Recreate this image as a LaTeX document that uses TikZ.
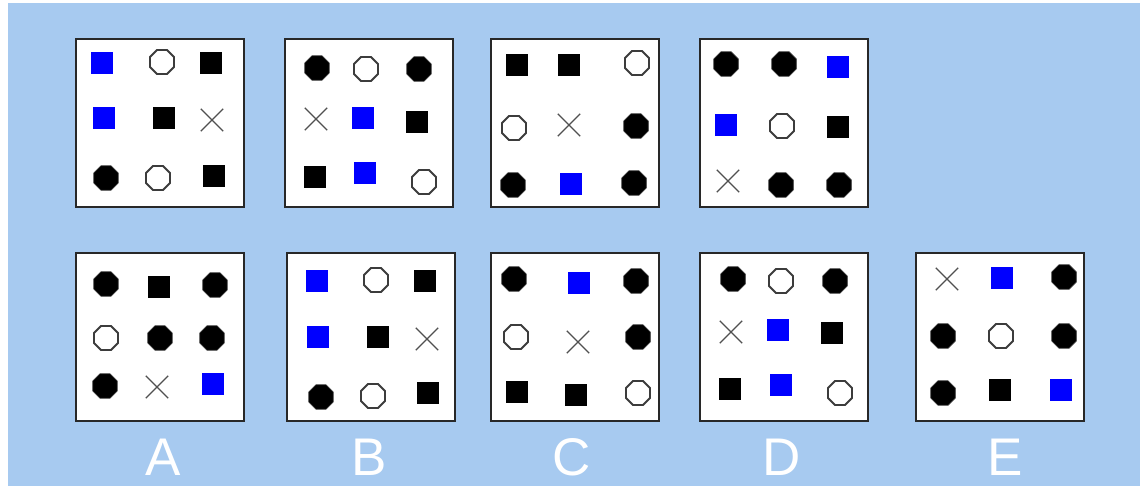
\documentclass[tikz,border=0pt]{standalone}
\usepackage{fontspec}
\setsansfont{Liberation Sans}
\usetikzlibrary{shapes.geometric,shapes.misc}
\definecolor{bg}{RGB}{167,202,240}
\definecolor{frame}{RGB}{40,40,40}
\definecolor{ring}{RGB}{60,60,60}
\definecolor{xcol}{RGB}{80,80,80}
\tikzset{
  panel/.style={draw=frame, line width=2.4pt, fill=white, minimum width=168pt, minimum height=168pt, inner sep=0pt},
  bsq/.style={fill=black, minimum size=22.5pt, inner sep=0pt},
  bluesq/.style={fill=blue, minimum size=22.5pt, inner sep=0pt},
  boct/.style={regular polygon, regular polygon sides=8, fill=black, draw=black!80, line width=0.6pt, minimum size=26.5pt, inner sep=0pt},
  ooct/.style={regular polygon, regular polygon sides=8, draw=ring, line width=1.9pt, fill=white, minimum size=26pt, inner sep=0pt},
  xmark/.style={cross out, draw=xcol, line width=1.3pt, minimum size=21pt, inner sep=0pt},
  lab/.style={text=white, font=\sffamily\fontsize{53}{53}\selectfont, inner sep=0pt}
}
\begin{document}
\begin{tikzpicture}[x=1pt,y=-1pt]
\useasboundingbox (0,0) rectangle (1142,486);
\fill[white] (0,0) rectangle (1142,486);
\fill[bg] (8,3) rectangle (1140,486);
% panels
\node[panel] (p1) at (160,123) {};
\node[panel] (p2) at (369,123) {};
\node[panel] (p3) at (575,123) {};
\node[panel] (p4) at (784,123) {};
\node[panel] (pA) at (160,337) {};
\node[panel] (pB) at (371,337) {};
\node[panel] (pC) at (575,337) {};
\node[panel] (pD) at (784,337) {};
\node[panel] (pE) at (1000,337) {};
% P1
\node[bluesq] (p1a) at (102,63) {};
\node[ooct] (p1b) at (162,62) {};
\node[bsq] (p1c) at (211,63) {};
\node[bluesq] (p1d) at (104,118) {};
\node[bsq] (p1e) at (164,118) {};
\node[xmark] (p1f) at (212,120) {};
\node[boct] (p1g) at (106,178) {};
\node[ooct] (p1h) at (158,178) {};
\node[bsq] (p1i) at (214,176) {};
% P2
\node[boct] (p2a) at (317,68) {};
\node[ooct] (p2b) at (366,69) {};
\node[boct] (p2c) at (419,69) {};
\node[xmark] (p2d) at (316,119) {};
\node[bluesq] (p2e) at (363,118) {};
\node[bsq] (p2f) at (417,122) {};
\node[bsq] (p2g) at (315,177) {};
\node[bluesq] (p2h) at (365,173) {};
\node[ooct] (p2i) at (424,182) {};
% P3
\node[bsq] (p3a) at (517,65) {};
\node[bsq] (p3b) at (569,65) {};
\node[ooct] (p3c) at (637,63) {};
\node[ooct] (p3d) at (514,128) {};
\node[xmark] (p3e) at (569,125) {};
\node[boct] (p3f) at (636,126) {};
\node[boct] (p3g) at (513,185) {};
\node[bluesq] (p3h) at (571,184) {};
\node[boct] (p3i) at (634,183) {};
% P4
\node[boct] (p4a) at (726,64) {};
\node[boct] (p4b) at (784,64) {};
\node[bluesq] (p4c) at (838,67) {};
\node[bluesq] (p4d) at (726,125) {};
\node[ooct] (p4e) at (782,126) {};
\node[bsq] (p4f) at (838,127) {};
\node[xmark] (p4g) at (728,181) {};
\node[boct] (p4h) at (781,185) {};
\node[boct] (p4i) at (839,185) {};
% A
\node[boct] (Aa) at (106,284) {};
\node[bsq] (Ab) at (159,287) {};
\node[boct] (Ac) at (215,285) {};
\node[ooct] (Ad) at (106,338) {};
\node[boct] (Ae) at (160,338) {};
\node[boct] (Af) at (212,338) {};
\node[boct] (Ag) at (105,386) {};
\node[xmark] (Ah) at (157,387) {};
\node[bluesq] (Ai) at (213,384) {};
% B
\node[bluesq] (Ba) at (317,281) {};
\node[ooct] (Bb) at (376,280) {};
\node[bsq] (Bc) at (425,281) {};
\node[bluesq] (Bd) at (318,337) {};
\node[bsq] (Be) at (378,337) {};
\node[xmark] (Bf) at (427,339) {};
\node[boct] (Bg) at (321,397) {};
\node[ooct] (Bh) at (373,396) {};
\node[bsq] (Bi) at (428,393) {};
% C
\node[boct] (Ca) at (514,279) {};
\node[bluesq] (Cb) at (579,283) {};
\node[boct] (Cc) at (636,281) {};
\node[ooct] (Cd) at (516,337) {};
\node[xmark] (Ce) at (578,342) {};
\node[boct] (Cf) at (638,337) {};
\node[bsq] (Cg) at (517,392) {};
\node[bsq] (Ch) at (576,395) {};
\node[ooct] (Ci) at (638,393) {};
% D
\node[boct] (Da) at (733,279) {};
\node[ooct] (Db) at (781,281) {};
\node[boct] (Dc) at (835,281) {};
\node[xmark] (Dd) at (731,332) {};
\node[bluesq] (De) at (778,330) {};
\node[bsq] (Df) at (832,333) {};
\node[bsq] (Dg) at (730,389) {};
\node[bluesq] (Dh) at (781,385) {};
\node[ooct] (Di) at (840,393) {};
% E
\node[xmark] (Ea) at (947,279) {};
\node[bluesq] (Eb) at (1002,278) {};
\node[boct] (Ec) at (1064,277) {};
\node[boct] (Ed) at (943,336) {};
\node[ooct] (Ee) at (1001,336) {};
\node[boct] (Ef) at (1064,336) {};
\node[boct] (Eg) at (943,393) {};
\node[bsq] (Eh) at (1000,390) {};
\node[bluesq] (Ei) at (1061,390) {};
% labels
\node[lab, anchor=base] (lA) at (163,475) {A};
\node[lab, anchor=base] (lB) at (369,475) {B};
\node[lab, anchor=base] (lC) at (572,475) {C};
\node[lab, anchor=base] (lD) at (782,475) {D};
\node[lab, anchor=base] (lE) at (1005,475) {E};
\end{tikzpicture}
\end{document}
